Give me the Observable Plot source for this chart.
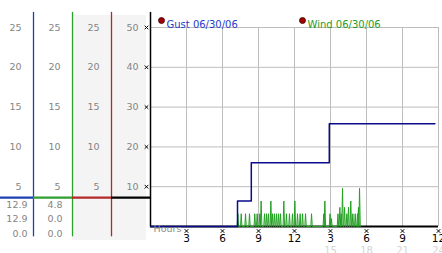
<!DOCTYPE html>
<html>
<head>
<meta charset="utf-8">
<script src="https://cdn.jsdelivr.net/npm/d3@7"></script>
<script src="https://cdn.jsdelivr.net/npm/@observablehq/plot@0.6"></script>
<style>
  html, body { margin: 0; padding: 0; background: #fff; }
  #chart svg { display: block; }
</style>
</head>
<body>
<div id="chart"></div>
<script>
// ---------- data ----------
const legendLabels = ["Gust 06/30/06", "Wind 06/30/06"];
const hourTicks = [3, 6, 9, 12, 15, 18, 21, 24];
const hourLabels = ["3", "6", "9", "12", "3", "6", "9", "12"];
const hourLabels24 = ["", "", "", "", "15", "18", "21", "24"];
const yTicks = [5, 10, 15, 20, 25];
const colTickLabels1 = ["5", "10", "15", "20", "25"];
const colTickLabels2 = ["5", "10", "15", "20", "25"];
const colTickLabels3 = ["5", "10", "15", "20", "25"];
const colTickLabels4 = ["10", "20", "30", "40", "50"];
const gustStats = ["12.9", "12.9", "0.0"];
const windStats = ["4.8", "0.0", "0.0"];

// gust (step series)
const gustHours = [0, 7.25, 8.4, 14.9, 23.7];
const gustValues = [0, 3.2, 8.0, 12.9, 12.9];

// wind spikes (hour, value)
const windHours = [7.28, 7.56, 7.92, 8.25, 8.69, 8.89, 9.11, 9.22, 9.5, 9.67, 9.83, 10.03, 10.17, 10.33, 10.5, 10.67, 10.83, 11.11, 11.33, 11.58, 11.83, 12.03, 12.25, 12.47, 12.67, 12.92, 13.42, 14.44, 14.53, 14.96, 15.08, 15.62, 15.78, 15.89, 16.0, 16.17, 16.36, 16.5, 16.69, 16.86, 17.06, 17.25, 17.33, 17.42];
const windValues = [1.6, 1.6, 1.6, 1.6, 1.6, 1.6, 1.6, 3.2, 1.6, 1.6, 1.6, 3.2, 1.6, 1.6, 1.6, 1.6, 1.6, 3.2, 1.6, 1.6, 1.6, 3.2, 1.6, 1.6, 1.6, 1.6, 1.6, 1.6, 3.2, 1.6, 1.0, 1.6, 2.4, 1.6, 4.8, 2.4, 1.6, 2.4, 3.2, 1.6, 1.6, 1.6, 2.4, 4.8];

// ---------- build tables ----------
const gust = gustHours.map((h, i) => ({h, v: gustValues[i]}));
const wind = [];
windHours.forEach((h, i) => {
  wind.push({h: h - 0.06, v: 0});
  wind.push({h, v: windValues[i]});
  wind.push({h: h + 0.06, v: 0});
});
const ticks = hourTicks.map((h, i) => ({h, a: hourLabels[i], b: hourLabels24[i]}));

// left panel column boundaries (in hour units of the shared x scale)
const COLS = [
  {x: -9.75, color: "#1f3fb4", labels: colTickLabels1},
  {x: -6.5, color: "#2ea02e", labels: colTickLabels2},
  {x: -3.25, color: "#b42828", labels: colTickLabels3},
  {x: 0, color: "#000", labels: colTickLabels4}
];
const colLabelData = COLS.flatMap(c => c.labels.map((t, i) => ({x: c.x, y: yTicks[i], t})));
const rowDy = [-22, -8, 7];
const segStart = [-12.5, -9.75, -6.5, -3.25];
const SEP = 3.64;

const FONT = "DejaVu Sans, Verdana, sans-serif";

function statMarks(values, colX, dx) {
  return values.map((t, r) => Plot.text([t], {x: colX, y: 0, text: d => d, dx, dy: rowDy[r], textAnchor: "end", fill: "#858585", fontSize: 9.5}));
}

const chart = Plot.plot({
  width: 442,
  height: 253,
  marginLeft: 150,
  marginRight: 4,
  marginTop: 27,
  marginBottom: 27,
  x: {domain: [0, 24], axis: null},
  y: {domain: [0, 25], axis: null},
  style: {fontFamily: FONT, background: "#fff", overflow: "visible"},
  marks: [
    // left panel shaded band
    Plot.rectY([0], {x1: -6.5, x2: -0.33, y1: -1.76, y2: 26.5, fill: "#f4f4f4"}),
    // grid
    Plot.ruleY(yTicks, {x1: 0, x2: 24, stroke: "#bdbdbd", strokeWidth: 1}),
    Plot.ruleX(hourTicks, {y1: 0, y2: 25, stroke: "#bdbdbd", strokeWidth: 1}),
    // column lines
    ...COLS.slice(0, 3).map(c => Plot.ruleX([c.x], {y1: -1.3, y2: 26.9, stroke: c.color, strokeWidth: 1.3})),
    Plot.ruleX([0], {y1: 0, y2: 26.9, stroke: "#000", strokeWidth: 1.5}),
    // separator segments
    ...COLS.map((c, i) => Plot.ruleY([SEP], {x1: segStart[i], x2: c.x, stroke: c.color, strokeWidth: 2.2})),
    // column tick labels
    Plot.text(colLabelData, {x: "x", y: "y", text: "t", dx: -12, textAnchor: "end", fill: "#858585", fontSize: 9.5}),
    // stats
    ...statMarks(gustStats, COLS[0].x, -6),
    ...statMarks(windStats, COLS[1].x, -10),
    // baseline
    Plot.ruleY([0], {x1: 0, x2: 24, stroke: "#000", strokeWidth: 2}),
    // wind
    Plot.lineY(wind, {x: "h", y: "v", stroke: "#22a022", strokeWidth: 1}),
    // gust
    Plot.lineY(gust, {x: "h", y: "v", curve: "step-after", stroke: "#0a0a8c", strokeWidth: 1.5}),
    // y tick markers
    Plot.dot(yTicks, {x: 0, y: d => d, dx: -4, symbol: "times", r: 1.8, stroke: "#000", strokeWidth: 1}),
    // x tick markers
    Plot.dot(hourTicks, {x: d => d, y: 0, dy: 4.5, symbol: "times", r: 1.8, stroke: "#000", strokeWidth: 1}),
    // x labels
    Plot.text(ticks, {x: "h", y: 0, text: "a", dy: 12.5, fill: "#000", fontSize: 10.5}),
    Plot.text(ticks, {x: "h", y: 0, text: "b", dy: 24, fill: "#d4d4d4", fontSize: 10}),
    Plot.text(["Hours"], {frameAnchor: "bottom-left", text: d => d, dx: 3, dy: 5.5, textAnchor: "start", fill: "#8a8a8a", fontSize: 9.5}),
    // legend
    Plot.dot([0], {frameAnchor: "top-left", dx: 11, dy: -7, r: 3, fill: "#a00000", stroke: "#400000", strokeWidth: 0.8}),
    Plot.text([legendLabels[0]], {frameAnchor: "top-left", text: d => d, dx: 16, dy: -7, textAnchor: "start", fill: "#1e3cc8", fontSize: 10}),
    Plot.dot([0], {frameAnchor: "top-left", dx: 152, dy: -7, r: 3, fill: "#a00000", stroke: "#400000", strokeWidth: 0.8}),
    Plot.text([legendLabels[1]], {frameAnchor: "top-left", text: d => d, dx: 157, dy: -7, textAnchor: "start", fill: "#1f9a1f", fontSize: 10})
  ]
});
document.getElementById("chart").appendChild(chart);
</script>
</body>
</html>
